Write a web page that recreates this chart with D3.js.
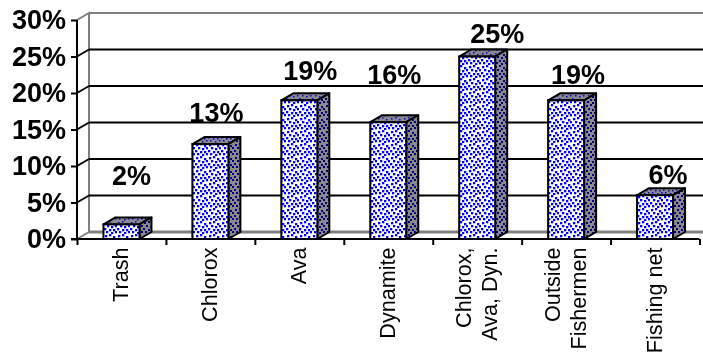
<!DOCTYPE html>
<html><head><meta charset="utf-8">
<script src="https://cdn.jsdelivr.net/npm/d3@7"></script>
<style>html,body{margin:0;padding:0;background:#fff;overflow:hidden}svg{filter:blur(0.4px)}text{font-family:"Liberation Sans",Arial,sans-serif;fill:#000}</style>
</head><body><svg id="c" width="703" height="354"></svg>
<script>
const categories=[["Trash"],["Chlorox"],["Ava"],["Dynamite"],["Chlorox,","Ava, Dyn."],["Outside","Fishermen"],["Fishing net"]];
const values=[2,13,19,16,25,19,6];
const valueLabels=["2%","13%","19%","16%","25%","19%","6%"];
const tickValues=[0,5,10,15,20,25,30];
const labelLevels=[7.4,16,21.8,21.3,26.8,21.3,7.6];
const labelShifts=[10,6,11,6,20,12,13];
const svg=d3.select("#c");
const m={l:77,r:699.5,t:20,b:239,dx:12,dy:7};
const x=d3.scaleBand().domain(d3.range(categories.length)).range([m.l,m.r]);
const y=d3.scaleLinear().domain([0,30]).range([m.b,m.t]);
const barW=36;
const defs=svg.append("defs");
const dots=[[1,1],[5,0],[9,2],[3,4],[7,5],[11,4],[0,7],[5,8],[9,8],[2,10],[7,11],[11,10]];
function pat(id,bg,col,s){const p=defs.append("pattern").attr("id",id).attr("patternUnits","userSpaceOnUse").attr("width",13).attr("height",13);
 p.append("rect").attr("width",13).attr("height",13).attr("fill",bg);
 p.selectAll("rect.d").data(dots).join("rect").attr("class","d").attr("x",d=>d[0]).attr("y",d=>d[1]).attr("width",s).attr("height",s).attr("fill",col);}
pat("front","#fff","#0000ff",2.3);pat("side","#8a8a8a","#000080",2);pat("top","#8a8a8a","#0000e0",1.5);
const g=svg.append("g");
const gridVals=tickValues.filter(v=>v>0&&v<30);
g.append("path").attr("fill","none").attr("stroke","#808080").attr("stroke-width",2)
 .attr("d",`M${m.l},${y(30)}L${m.l+m.dx},${y(30)-m.dy}L${m.l+m.dx},${y(0)-m.dy}L${m.l},${y(0)}M${m.l+m.dx},${y(30)-m.dy}H703`);
g.append("line").attr("x1",m.l+m.dx).attr("x2",703).attr("y1",y(0)-m.dy).attr("y2",y(0)-m.dy).attr("stroke","#808080").attr("stroke-width",3);
g.selectAll("line.grid").data(gridVals).join("line").attr("class","grid").attr("x1",m.l).attr("y1",d=>y(d)).attr("x2",m.l+m.dx).attr("y2",d=>y(d)-m.dy).attr("stroke","#000").attr("stroke-width",2);
g.selectAll("line.grid2").data(gridVals).join("line").attr("class","grid2").attr("x1",m.l+m.dx).attr("y1",d=>y(d)-m.dy).attr("x2",703).attr("y2",d=>y(d)-m.dy).attr("stroke","#000").attr("stroke-width",2);
const bars=g.selectAll("g.bar").data(values).join("g").attr("class","bar");
const bx=i=>x(i)+x.bandwidth()/2-barW/2;
bars.append("path").attr("fill","url(#top)").attr("stroke","#000").attr("stroke-width",2).attr("stroke-linejoin","round")
 .attr("d",(d,i)=>`M${bx(i)},${y(d)}l${m.dx},${-m.dy}h${barW}l${-m.dx},${m.dy}z`);
bars.append("path").attr("fill","url(#side)").attr("stroke","#000").attr("stroke-width",2).attr("stroke-linejoin","round")
 .attr("d",(d,i)=>`M${bx(i)+barW},${y(d)}l${m.dx},${-m.dy}V${y(0)-m.dy}l${-m.dx},${m.dy}z`);
bars.append("rect").attr("x",(d,i)=>bx(i)).attr("y",d=>y(d)).attr("width",barW).attr("height",d=>y(0)-y(d)).attr("fill","url(#front)").attr("stroke","#000").attr("stroke-width",2);
const ya=d3.axisLeft(y).tickValues(tickValues).tickFormat(d=>d+"%").tickSize(6).tickPadding(5);
const yg=svg.append("g").attr("transform",`translate(${m.l},0)`).call(ya);
yg.selectAll("path,line").attr("stroke","#000").attr("stroke-width",2);
yg.select("path").attr("d",`M0,${m.t}V${m.b}`);
yg.selectAll("text").attr("font-size",27).attr("font-weight","bold").attr("style",'font-family:"Liberation Sans"');
const xa=d3.axisBottom(d3.scaleLinear().domain([0,categories.length]).range([m.l,m.r])).tickValues(d3.range(categories.length+1)).tickFormat("").tickSize(6);
const xg=svg.append("g").attr("transform",`translate(0,${m.b})`).call(xa);
xg.selectAll("path,line").attr("stroke","#000").attr("stroke-width",2);
xg.select("path").attr("d",`M${m.l-6},0H${m.r}`);
const cats=svg.selectAll("g.cat").data(categories).join("g").attr("class","cat").attr("transform",(d,i)=>`translate(${x(i)+x.bandwidth()/2},247.5) rotate(-90)`);
cats.each(function(lines){const s=d3.select(this);lines.forEach((t,k)=>{s.append("text").text(t).attr("text-anchor","end").attr("font-size",21.6)
 .attr("x",0).attr("y",7+(k-(lines.length-1)/2)*26);});});
svg.selectAll("text.v").data(valueLabels).join("text").attr("class","v").text(d=>d).attr("font-size",27).attr("font-weight","bold").attr("text-anchor","middle")
 .attr("x",(d,i)=>x(i)+x.bandwidth()/2+labelShifts[i]).attr("y",(d,i)=>y(labelLevels[i]));
</script></body></html>
